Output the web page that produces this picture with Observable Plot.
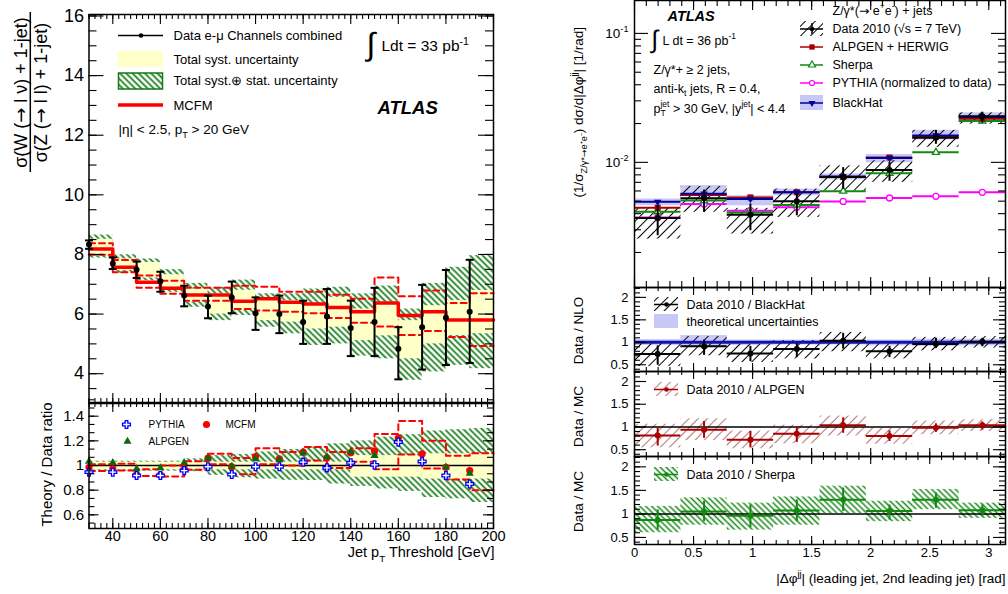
<!DOCTYPE html>
<html><head><meta charset="utf-8">
<script src="https://cdn.jsdelivr.net/npm/d3@7"></script>
<script src="https://cdn.jsdelivr.net/npm/@observablehq/plot@0.6"></script>
<style>
body{margin:0;background:#fff}
#chart{position:relative;width:1008px;height:594px;overflow:hidden;background:#fff}
</style></head><body>
<svg width="0" height="0" style="position:absolute;left:0;top:0">
<defs>
<pattern id="hatchGreen" patternUnits="userSpaceOnUse" width="4.4" height="10" patternTransform="rotate(-45)">
<line x1="2.2" y1="-1" x2="2.2" y2="11" stroke="#137a13" stroke-width="1.7"/></pattern>
<pattern id="hatchBlack" patternUnits="userSpaceOnUse" width="7" height="10" patternTransform="rotate(45)">
<line x1="3.5" y1="-1" x2="3.5" y2="11" stroke="#000" stroke-width="1"/></pattern>
<pattern id="hatchRed" patternUnits="userSpaceOnUse" width="6.5" height="10" patternTransform="rotate(45)">
<line x1="3.2" y1="-1" x2="3.2" y2="11" stroke="#b57a7a" stroke-width="1.1"/></pattern>
<pattern id="hatchSherpa" patternUnits="userSpaceOnUse" width="4.2" height="10" patternTransform="rotate(-45)">
<line x1="2.1" y1="-1" x2="2.1" y2="11" stroke="#1a8a1a" stroke-width="1.5"/></pattern>
</defs></svg>
<div id="chart"></div>
<script>
// ---------------- LEFT: W+1jet / Z+1jet vs jet pT threshold ----------------
const ptThreshold = [30,40,50,60,70,80,90,100,110,120,130,140,150,160,170,180,190];
const ptBinHigh   = [40,50,60,70,80,90,100,110,120,130,140,150,160,170,180,190,200];
const ratioData     = [8.33,7.70,7.49,7.10,6.62,6.25,6.56,6.03,6.00,5.73,5.92,5.53,5.73,4.84,5.56,5.88,6.08];
const ratioErrHigh  = [8.47,7.90,7.76,7.42,6.95,6.62,7.09,6.56,6.62,6.45,6.84,6.45,6.88,5.56,6.98,7.48,7.82];
const ratioErrLow   = [8.19,7.51,7.21,6.75,6.26,5.86,6.03,5.47,5.36,5.00,5.00,4.59,4.59,3.81,4.14,4.29,4.36];
const systLow  = [7.96,7.46,7.21,6.90,6.40,6.00,6.12,5.78,5.73,5.50,5.56,5.11,5.27,4.50,5.00,5.28,5.34];
const systHigh = [8.51,7.85,7.73,7.32,6.84,6.68,6.80,6.50,6.45,6.34,6.56,6.17,6.40,5.78,6.28,6.45,6.79];
const totLow   = [7.88,7.37,7.12,6.73,6.23,5.78,5.95,5.56,5.34,4.95,5.00,4.59,4.50,3.78,4.06,4.28,4.17];
const totHigh  = [8.65,7.99,7.85,7.49,7.03,6.90,7.14,6.68,6.68,6.84,6.90,6.68,6.94,6.17,7.03,7.57,7.96];
const mcfm     = [8.18,7.57,7.07,6.87,6.64,6.64,6.43,6.51,6.40,6.34,6.22,6.08,6.37,5.95,6.08,5.80,5.80];
const mcfmHigh = [8.38,7.81,7.29,7.12,6.88,6.88,6.95,6.92,6.75,6.75,6.65,6.51,7.23,6.60,6.79,6.37,6.70];
const mcfmLow  = [7.99,7.40,6.88,6.68,6.45,6.45,6.17,6.12,6.08,6.03,5.87,5.71,5.58,5.30,5.43,5.23,4.93];
// theory / data ratio panel
const pythiaOverData = [0.946,0.946,0.919,0.919,0.959,0.99,0.927,0.99,0.99,1.027,0.981,1.022,1.005,1.19,1.033,0.919,0.85];
const mcfmOverData   = [0.986,0.973,0.927,0.925,0.975,1.06,0.99,1.073,1.054,1.108,1.062,1.103,1.116,1.222,1.095,0.986,0.959];
const alpgenOverData = [1.033,1.022,0.973,0.98,1.022,1.06,0.992,1.054,1.045,1.10,1.07,1.11,1.08,1.20,1.04,0.986,0.935];
const systRelLow  = [0.965,0.965,0.965,0.965,0.965,0.965,0.965,0.965,0.965,0.965,0.965,0.905,0.905,0.905,0.89,0.89,0.89];
const systRelHigh = [1.027,1.027,1.027,1.027,1.027,1.027,1.027,1.027,1.027,1.027,1.027,1.08,1.08,1.08,1.095,1.095,1.095];
const totRelLow   = [0.954,0.954,0.954,0.954,0.95,0.92,0.90,0.89,0.88,0.878,0.85,0.83,0.81,0.79,0.74,0.73,0.70];
const totRelHigh  = [1.035,1.035,1.035,1.035,1.054,1.08,1.09,1.11,1.13,1.149,1.176,1.20,1.23,1.25,1.28,1.29,1.30];
const mcfmRelHigh = [1.01,1.014,0.97,1.0,1.035,1.095,1.06,1.14,1.11,1.15,1.11,1.14,1.256,1.36,1.20,1.08,1.10];
const mcfmRelLow  = [0.955,0.96,0.915,0.91,0.965,1.01,0.93,1.01,1.0,1.04,0.98,1.03,0.97,1.09,0.975,0.886,0.80];
const leftXTicks = [40,60,80,100,120,140,160,180,200];
const leftYTicks = [4,6,8,10,12,14,16];
const leftRatioTicks = [0.6,0.8,1,1.2,1.4];

// ---------------- RIGHT: Z + >=2 jets, |dphi(j1,j2)| ----------------
const dphiLow  = [0,0.393,0.785,1.178,1.571,1.963,2.356,2.749];
const dphiHigh = [0.393,0.785,1.178,1.571,1.963,2.356,2.749,3.142];
const dataXs       = [0.00370,0.00526,0.00393,0.00500,0.00770,0.00874,0.01550,0.02280];
const dataStatHigh = [0.00461,0.00610,0.00475,0.00569,0.00910,0.01000,0.01770,0.02450];
const dataStatLow  = [0.00270,0.00409,0.00295,0.00385,0.00620,0.00713,0.01380,0.02010];
const dataSystHigh = [0.00440,0.00650,0.00440,0.00620,0.00940,0.01030,0.01770,0.02420];
const dataSystLow  = [0.00254,0.00410,0.00278,0.00374,0.00600,0.00700,0.01310,0.01980];
const alpgenXs   = [0.00445,0.00558,0.00535,0.00587,0.00770,0.01090,0.01590,0.02180];
const sherpaXs   = [0.00414,0.00505,0.00409,0.00467,0.00598,0.00822,0.01197,0.02090];
const pythiaXs   = [0.00374,0.00475,0.00422,0.00448,0.00498,0.00529,0.00545,0.00585];
const blackhatXs   = [0.00494,0.00571,0.00520,0.00585,0.00776,0.01083,0.01614,0.02245];
const blackhatHigh = [0.00520,0.00660,0.00550,0.00620,0.00813,0.01150,0.01770,0.02420];
const blackhatLow  = [0.00461,0.00542,0.00460,0.00551,0.00731,0.00991,0.01490,0.02050];
// Data / BlackHat
const nloRatio    = [0.74,0.91,0.75,0.85,1.035,0.80,0.96,1.013];
const nloStatHigh = [0.92,1.05,0.91,0.97,1.20,0.91,1.09,1.09];
const nloStatLow  = [0.49,0.71,0.57,0.66,0.85,0.66,0.86,0.90];
const nloSystHigh = [0.97,1.13,0.95,1.04,1.22,0.97,1.11,1.13];
const nloSystLow  = [0.46,0.70,0.55,0.63,0.79,0.63,0.81,0.87];
const theoryRelHigh = [1.06,1.15,1.05,1.05,1.05,1.05,1.07,1.07];
const theoryRelLow  = [0.93,0.89,0.93,0.94,0.94,0.92,0.91,0.92];
// Data / ALPGEN
const alpRatio    = [0.81,0.94,0.72,0.85,1.04,0.80,0.98,1.04];
const alpStatHigh = [0.98,1.12,0.90,1.00,1.20,0.91,1.07,1.11];
const alpStatLow  = [0.58,0.75,0.54,0.66,0.86,0.68,0.88,0.93];
const alpSystHigh = [1.06,1.18,0.91,1.04,1.24,0.97,1.13,1.16];
const alpSystLow  = [0.54,0.70,0.52,0.63,0.80,0.62,0.83,0.90];
// Data / Sherpa
const shRatio    = [0.87,1.05,0.96,1.07,1.30,1.06,1.30,1.08];
const shStatHigh = [1.086,1.27,1.19,1.30,1.55,1.19,1.445,1.19];
const shStatLow  = [0.655,0.835,0.71,0.835,1.05,0.87,1.12,0.94];
const shSystHigh = [1.16,1.34,1.23,1.36,1.59,1.27,1.52,1.23];
const shSystLow  = [0.60,0.76,0.655,0.76,1.01,0.835,1.09,0.905];
const rightXTicks = [0,0.5,1,1.5,2,2.5,3];
const rightLogTicks = [0.01,0.1];
const rightRatioTicks = [0.5,1,1.5,2];

// ---------------- layout ----------------
const W = 1008, H = 594;
const FONT = "'Liberation Sans', Arial, Helvetica, sans-serif";
const LT = {left: 88.5, right: 493, top: 14, bottom: 403};
const LR = {left: 88.5, right: 493, top: 402, bottom: 528};
const RT = {left: 634, right: 1005, top: 0, bottom: 287};
const RN = {left: 634, right: 1005, top: 287, bottom: 371};
const RA = {left: 634, right: 1005, top: 371, bottom: 456};
const RS = {left: 634, right: 1005, top: 456, bottom: 544};
const C = {red:"#ff0000", green:"#137a13", yellow:"#ffffc8", blue:"#0000ff",
  alp:"#aa0000", she:"#118a11", pyt:"#ff00ff", bh:"#00009c", band:"#c8c8f6"};

const hline = {draw(ctx, size){ const r = Math.sqrt(size/Math.PI); ctx.moveTo(-r,0); ctx.lineTo(r,0); }};
const range = (a, b, s) => d3.range(Math.round((b - a)/s) + 1).map(i => +(a + i*s).toFixed(4));

function box(p){ return {width: W, height: H, marginLeft: p.left, marginRight: W - p.right, marginTop: p.top, marginBottom: H - p.bottom}; }
function ticks(p, o){
  const iw = p.right - p.left, ih = p.bottom - p.top, s = {stroke:"black", strokeWidth:1.1};
  return [
    Plot.tickX(o.xMajor, {insetTop: ih - o.xMaj, ...s}), Plot.tickX(o.xMajor, {insetBottom: ih - o.xMaj, ...s}),
    Plot.tickX(o.xMinor, {insetTop: ih - o.xMin, ...s}), Plot.tickX(o.xMinor, {insetBottom: ih - o.xMin, ...s}),
    Plot.tickY(o.yMajor, {insetRight: iw - o.yMaj, ...s}), Plot.tickY(o.yMajor, {insetLeft: iw - o.yMaj, ...s}),
    Plot.tickY(o.yMinor, {insetRight: iw - o.yMin, ...s}), Plot.tickY(o.yMinor, {insetLeft: iw - o.yMin, ...s}),
    Plot.frame({stroke:"black", strokeWidth:1.5})
  ];
}
const yLabels = (vals, fmt, size, pad) => Plot.text(vals, {y: d => d, text: fmt, frameAnchor:"left", textAnchor:"end", dx: -pad, fontSize: size});
const xLabels = (vals, fmt, size, pad) => Plot.text(vals, {x: d => d, text: fmt, frameAnchor:"bottom", lineAnchor:"top", dy: pad, fontSize: size});
const fmtNum = d => String(d);

const chart = document.getElementById("chart");
function layer(opts, first){
  const svg = Plot.plot({...opts, style:{background: first ? "white" : "transparent", fontFamily: FONT, overflow:"visible"}});
  svg.style.position = "absolute"; svg.style.left = "0px"; svg.style.top = "0px";
  chart.appendChild(svg); return svg;
}

// ---- left top panel ----
const ltRows = ptThreshold.map((x,i)=>({x, x2: ptBinHigh[i], v: ratioData[i], eh: ratioErrHigh[i], el: ratioErrLow[i],
  sl: systLow[i], sh: systHigh[i], tl: totLow[i], th: totHigh[i]}));
const step = arr => ptThreshold.map((x,i)=>({x, v: arr[i]})).concat([{x: ptBinHigh[ptBinHigh.length-1], v: arr[arr.length-1]}]);
const dashed = {x:"x", y:"v", curve:"step-after", stroke:C.red, strokeWidth:2, strokeDasharray:"6,4"};
layer({...box(LT), x:{domain:[30,200], axis:null}, y:{domain:[3,16.05], axis:null}, marks:[
  Plot.rect(ltRows, {x1:"x", x2:"x2", y1:"tl", y2:"th", fill:"url(#hatchGreen)"}),
  Plot.rect(ltRows, {x1:"x", x2:"x2", y1:"sl", y2:"sh", fill:C.yellow}),
  Plot.line(step(mcfmHigh), dashed), Plot.line(step(mcfmLow), dashed),
  Plot.line(step(mcfm), {x:"x", y:"v", curve:"step-after", stroke:C.red, strokeWidth:3.5}),
  Plot.ruleX(ltRows, {x:"x", y1:"el", y2:"eh", stroke:"black", strokeWidth:2}),
  Plot.dot(ltRows, {x:"x", y:"eh", symbol:hline, r:4, fill:"none", stroke:"black", strokeWidth:2}),
  Plot.dot(ltRows, {x:"x", y:"el", symbol:hline, r:4, fill:"none", stroke:"black", strokeWidth:2}),
  Plot.dot(ltRows, {x:"x", y:"v", r:3, fill:"black"}),
  ...ticks(LT, {xMajor: leftXTicks, xMinor: range(30,200,2.5), xMaj:10, xMin:5, yMajor: leftYTicks, yMinor: range(3,16,0.5), yMaj:15, yMin:8}),
  yLabels(leftYTicks, fmtNum, 18, 5)
]}, true);

// ---- left ratio panel ----
const lrRows = ptThreshold.map((x,i)=>({x, x2: ptBinHigh[i], tl: totRelLow[i], th: totRelHigh[i], sl: systRelLow[i], sh: systRelHigh[i],
  py: pythiaOverData[i], mc: mcfmOverData[i], al: alpgenOverData[i]}));
layer({...box(LR), x:{domain:[30,200], axis:null}, y:{domain:[0.489,1.511], axis:null}, marks:[
  Plot.rect(lrRows, {x1:"x", x2:"x2", y1:"tl", y2:"th", fill:"url(#hatchGreen)"}),
  Plot.rect(lrRows, {x1:"x", x2:"x2", y1:"sl", y2:"sh", fill:C.yellow}),
  Plot.ruleY([1], {stroke:"black", strokeWidth:1.5}),
  Plot.line(step(mcfmRelHigh), dashed), Plot.line(step(mcfmRelLow), dashed),
  Plot.dot(lrRows, {x:"x", y:"mc", r:3.6, fill:C.red}),
  Plot.dot(lrRows, {x:"x", y:"al", symbol:"triangle", r:3, fill:"#0a6a0a"}),
  Plot.dot(lrRows, {x:"x", y:"py", symbol:"cross", r:3.3, fill:"white", stroke:C.blue, strokeWidth:1.3}),
  ...ticks(LR, {xMajor: leftXTicks, xMinor: range(30,200,2.5), xMaj:10, xMin:5, yMajor: leftRatioTicks, yMinor: range(0.533,1.5,0.2/3), yMaj:10, yMin:6}),
  yLabels(leftRatioTicks, fmtNum, 15, 5),
  xLabels(leftXTicks, fmtNum, 14.5, 2)
]});

// ---- right top panel ----
const rtRows = dphiLow.map((lo,i)=>({lo, hi: dphiHigh[i], c: (lo + dphiHigh[i])/2, d: dataXs[i], dsh: dataStatHigh[i], dsl: dataStatLow[i],
  dh: dataSystHigh[i], dl: dataSystLow[i], alp: alpgenXs[i], she: sherpaXs[i], pyt: pythiaXs[i], bh: blackhatXs[i], bhh: blackhatHigh[i], bhl: blackhatLow[i]}));
const rxMinor = range(0, 3.1, 0.1);
layer({...box(RT), x:{domain:[0,3.1416], axis:null}, y:{type:"log", domain:[0.00107,0.18], axis:null}, marks:[
  Plot.rect(rtRows, {x1:"lo", x2:"hi", y1:"bhl", y2:"bhh", fill:C.band}),
  Plot.rect(rtRows, {x1:"lo", x2:"hi", y1:"dl", y2:"dh", fill:"url(#hatchBlack)"}),
  Plot.ruleY(rtRows, {y:"pyt", x1:"lo", x2:"hi", stroke:C.pyt, strokeWidth:2}),
  Plot.dot(rtRows, {x:"c", y:"pyt", r:3, fill:"white", stroke:C.pyt, strokeWidth:1.3}),
  Plot.ruleY(rtRows, {y:"she", x1:"lo", x2:"hi", stroke:C.she, strokeWidth:2}),
  Plot.dot(rtRows, {x:"c", y:"she", symbol:"triangle", r:2.6, fill:"white", stroke:C.she, strokeWidth:1.3}),
  Plot.ruleY(rtRows, {y:"alp", x1:"lo", x2:"hi", stroke:C.alp, strokeWidth:2}),
  Plot.dot(rtRows, {x:"c", y:"alp", symbol:"square", r:3.4, fill:C.alp}),
  Plot.ruleY(rtRows, {y:"bh", x1:"lo", x2:"hi", stroke:C.bh, strokeWidth:2}),
  Plot.dot(rtRows, {x:"c", y:"bh", symbol:"triangle", rotate:180, r:2.8, fill:C.bh}),
  Plot.ruleY(rtRows, {y:"d", x1:"lo", x2:"hi", stroke:"black", strokeWidth:2}),
  Plot.ruleX(rtRows, {x:"c", y1:"dsl", y2:"dsh", stroke:"black", strokeWidth:2}),
  Plot.dot(rtRows, {x:"c", y:"d", r:3, fill:"black"}),
  ...ticks(RT, {xMajor: rightXTicks, xMinor: rxMinor, xMaj:10, xMin:6,
    yMajor: rightLogTicks, yMinor: [0.002,0.003,0.004,0.005,0.006,0.007,0.008,0.009,0.02,0.03,0.04,0.05,0.06,0.07,0.08,0.09], yMaj:14, yMin:7}),
  yLabels(rightLogTicks, d => "10^{" + Math.round(Math.log10(d)) + "}", 13.5, 6)
]});

// ---- right ratio panels ----
function ratioPanel(p, vals, sHi, sLo, hHi, hLo, color, hatch, extra, xlab){
  const rows = dphiLow.map((lo,i)=>({lo, hi: dphiHigh[i], c:(lo + dphiHigh[i])/2, v: vals[i], sh: sHi[i], sl: sLo[i], hh: hHi[i], hl: hLo[i]}));
  return layer({...box(p), x:{domain:[0,3.1416], axis:null}, y:{domain:[0.35,2.22], axis:null}, marks:[
    ...(extra ? extra.under : []),
    Plot.rect(rows, {x1:"lo", x2:"hi", y1:"hl", y2:"hh", fill:`url(#${hatch})`}),
    ...(extra ? extra.line : [Plot.ruleY([1], {stroke:"black", strokeWidth:1.5})]),
    Plot.ruleY(rows, {y:"v", x1:"lo", x2:"hi", stroke:color, strokeWidth:2}),
    Plot.ruleX(rows, {x:"c", y1:"sl", y2:"sh", stroke:color, strokeWidth:2}),
    Plot.dot(rows, {x:"c", y:"v", r:3, fill:color}),
    ...ticks(p, {xMajor: rightXTicks, xMinor: rxMinor, xMaj:8, xMin:4, yMajor: rightRatioTicks, yMinor: range(0.4,2.2,0.1), yMaj:12, yMin:6}),
    yLabels(rightRatioTicks, fmtNum, 13, 6),
    ...(xlab ? [xLabels(rightXTicks, fmtNum, 13, 3)] : [])
  ]});
}
const bandRows = dphiLow.map((lo,i)=>({lo, hi: dphiHigh[i], th: theoryRelHigh[i], tl: theoryRelLow[i]}));
ratioPanel(RN, nloRatio, nloStatHigh, nloStatLow, nloSystHigh, nloSystLow, "black", "hatchBlack", {
  under: [Plot.rect(bandRows, {x1:"lo", x2:"hi", y1:"tl", y2:"th", fill:C.band})],
  line: [Plot.ruleY([1], {stroke:"#1010b0", strokeWidth:3})]
}, false);
ratioPanel(RA, alpRatio, alpStatHigh, alpStatLow, alpSystHigh, alpSystLow, C.alp, "hatchRed", null, false);
ratioPanel(RS, shRatio, shStatHigh, shStatLow, shSystHigh, shSystLow, C.she, "hatchSherpa", null, true);

// ---- annotation layer (pixel coordinates) ----
const T = (x, y, text, o = {}) => Plot.text([{x, y, text}], {x:"x", y:"y", text:"text", textAnchor: o.anchor || "start",
  fontSize: o.size || 13, fontWeight: o.weight, fontStyle: o.style, rotate: o.rotate, fill: o.fill || "black"});
const seg = (x1, x2, y, stroke, w, dash) => Plot.ruleY([y], {x1, x2, stroke, strokeWidth: w, strokeDasharray: dash});
const rc = (x1, x2, y1, y2, fill, stroke) => Plot.rect([0], {x1, x2, y1, y2, fill, stroke, strokeWidth: stroke ? 1.5 : 0});
const pt = (x, y, o) => Plot.dot([0], {x, y, ...o});
const vbar = (x, y1, y2, stroke) => Plot.ruleX([x], {y1, y2, stroke, strokeWidth: 1.5});
layer({width: W, height: H, margin: 0, x:{type:"identity", axis:null}, y:{type:"identity", axis:null}, marks:[
  // left legend
  seg(118, 163, 35, "black", 1.5), pt(140.5, 35, {r:2.3, fill:"black"}),
  rc(118, 163, 51, 67, C.yellow),
  rc(118.5, 162.5, 73, 89, "url(#hatchGreen)", C.green),
  seg(118, 163, 104.5, C.red, 3.5),
  T(173, 35, "Data e-μ Channels combined"), T(173, 59, "Total syst. uncertainty"),
  T(173, 80.5, "Total syst.⊕ stat. uncertainty"), T(173, 105, "MCFM"),
  T(118, 129, "|η| < 2.5, p_{T} > 20 GeV", {size:13.5}),
  T(366, 44, "∫", {size:32}), T(381, 46, "Ldt = 33 pb^{-1}", {size:15.5}),
  T(377, 108, "ATLAS", {size:18.5, weight:"bold", style:"italic"}),
  T(21, 92, "σ(W (→ l ν) + 1-jet)", {size:18, anchor:"middle", rotate:-90}),
  T(41, 92, "σ(Z (→ l l) + 1-jet)", {size:18, anchor:"middle", rotate:-90}),
  Plot.ruleX([29.8], {y1:12, y2:172, stroke:"black", strokeWidth:1.5}),
  // left ratio legend & titles
  pt(126, 424, {symbol:"cross", r:3.3, fill:"white", stroke:C.blue, strokeWidth:1.3}), T(148, 424, "PYTHIA", {size:10}),
  pt(206, 424, {r:3.6, fill:C.red}), T(225, 424, "MCFM", {size:10}),
  pt(127, 441, {symbol:"triangle", r:3, fill:"#0a6a0a"}), T(148, 441, "ALPGEN", {size:10}),
  T(47, 464, "Theory / Data ratio", {size:15, anchor:"middle", rotate:-90}),
  T(494, 552, "Jet p_{T} Threshold [GeV]", {size:14.5, anchor:"end"}),
  // right top texts
  T(667, 16, "ATLAS", {size:14.5, weight:"bold", style:"italic"}),
  T(651, 39, "∫", {size:25}), T(662, 40, "L dt = 36 pb^{-1}", {size:12.5}),
  T(653, 69, "Z/γ*+ ≥ 2 jets,", {size:12.5}),
  T(653, 88, "anti-k_{t} jets, R = 0.4,", {size:12.5}),
  T(653, 108, "p_{T}^{jet} > 30 GeV, |y^{jet}| < 4.4", {size:12.5}),
  T(832, 10, "Z/γ*(→ e^{+}e^{-}) + jets", {size:12.5}),
  rc(800, 823, 21, 36, "url(#hatchBlack)"), seg(800, 823, 28.5, "black", 1.5), vbar(811.5, 23, 34, "black"), pt(811.5, 28.5, {r:2.3, fill:"black"}),
  T(832, 28.5, "Data 2010 (√s = 7 TeV)", {size:12.5}),
  seg(800, 823, 46.5, C.alp, 1.5), pt(811.5, 46.5, {symbol:"square", r:3, fill:C.alp}), T(832, 46.5, "ALPGEN + HERWIG", {size:12.5}),
  seg(800, 823, 64.5, C.she, 1.5), pt(811.5, 64.5, {symbol:"triangle", r:2.6, fill:"white", stroke:C.she, strokeWidth:1.2}), T(832, 64.5, "Sherpa", {size:12.5}),
  seg(800, 823, 82.5, C.pyt, 1.5), pt(811.5, 82.5, {r:2.5, fill:"white", stroke:C.pyt, strokeWidth:1.2}), T(832, 82.5, "PYTHIA (normalized to data)", {size:12.5}),
  rc(800, 823, 95, 110, C.band), seg(800, 823, 102.5, C.bh, 1.5), pt(811.5, 102.5, {symbol:"triangle", rotate:180, r:2.6, fill:C.bh}), T(832, 102.5, "BlackHat", {size:12.5}),
  T(578, 197, "(1/σ_{Z/γ*→e⁺e⁻}) dσ/d|Δφ^{jj}| [1/rad]", {size:13.5, rotate:-90}),
  // right ratio titles and legends
  T(578, 330, "Data / NLO", {size:13.5, anchor:"middle", rotate:-90}),
  T(578, 416, "Data / MC", {size:13.5, anchor:"middle", rotate:-90}),
  T(578, 501, "Data / MC", {size:13.5, anchor:"middle", rotate:-90}),
  rc(654, 678, 297, 311, "url(#hatchBlack)"), seg(654, 678, 304, "black", 1.5), pt(666, 304, {r:2.3, fill:"black"}),
  T(686, 304, "Data 2010 / BlackHat", {size:12.5}),
  rc(654, 678, 314, 328, C.band), T(686, 321, "theoretical uncertainties", {size:12.5}),
  rc(654, 678, 382, 396, "url(#hatchRed)"), seg(654, 678, 389, C.alp, 1.5), pt(666, 389, {r:2.3, fill:C.alp}),
  T(686, 389, "Data 2010 / ALPGEN", {size:12.5}),
  rc(654, 678, 467, 481, "url(#hatchSherpa)"), seg(654, 678, 474, C.she, 1.5), pt(666, 474, {r:2.3, fill:C.she}),
  T(686, 474, "Data 2010 / Sherpa", {size:12.5}),
  T(1005, 578, "|Δφ^{jj}| (leading jet, 2nd leading jet) [rad]", {size:13.5, anchor:"end"})
]});

// ---- sub/superscript markup -> tspans; arrows drawn with DejaVu Sans ----
const SVGNS = "http://www.w3.org/2000/svg";
function appendPlain(parent, str){
  str.split(/(→)/).forEach(part => {
    if (!part) return;
    if (part === "→") {
      const a = document.createElementNS(SVGNS, "tspan");
      a.setAttribute("font-family", "'DejaVu Sans'"); a.textContent = part; parent.appendChild(a);
    } else parent.appendChild(document.createTextNode(part));
  });
}
function richify(root){
  root.querySelectorAll("text").forEach(t => {
    const els = t.querySelector("tspan") ? [...t.querySelectorAll("tspan")] : [t];
    els.forEach(el => {
      const s = el.textContent;
      if (!/[_^]\{|→/.test(s)) return;
      const fs = parseFloat(getComputedStyle(el).fontSize) || 13;
      const segs = []; const re = /([_^])\{([^}]*)\}/g; let m, last = 0;
      while ((m = re.exec(s))) {
        if (m.index > last) segs.push({k:"n", s: s.slice(last, m.index)});
        segs.push({k: m[1] === "_" ? "sub" : "sup", s: m[2]}); last = re.lastIndex;
      }
      if (last < s.length) segs.push({k:"n", s: s.slice(last)});
      el.textContent = "";
      let shift = 0, prev = null;
      segs.forEach(g => {
        const sp = document.createElementNS(SVGNS, "tspan");
        const target = g.k === "sub" ? 0.3*fs : g.k === "sup" ? -0.42*fs : 0;
        const d = target - shift; shift = target;
        if (d) sp.setAttribute("dy", d);
        if (g.k !== "n") sp.setAttribute("font-size", 0.68*fs);
        appendPlain(sp, g.s);
        el.appendChild(sp);
        if (g.k === "sup" && prev && prev.k === "sub") sp.setAttribute("dx", -prev.el.getComputedTextLength());
        prev = {k: g.k, el: sp};
      });
    });
  });
}
richify(chart);
</script>
</body></html>
